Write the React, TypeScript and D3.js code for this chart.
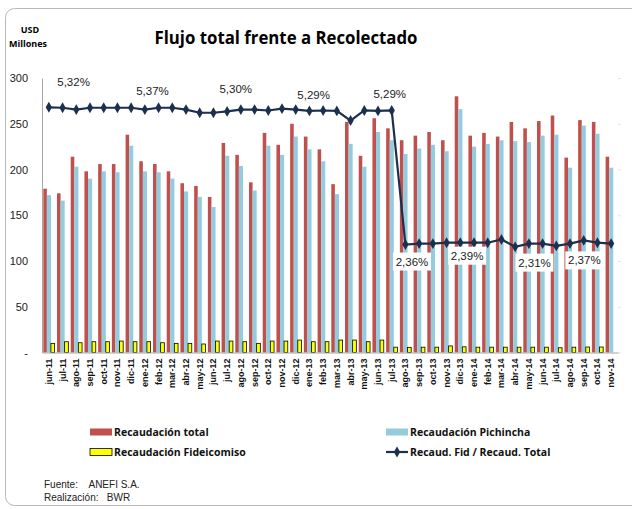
import * as d3 from "d3";
import { useEffect, useRef } from "react";

const months = [
  "jun-11", "jul-11", "ago-11", "sep-11", "oct-11", "nov-11", "dic-11",
  "ene-12", "feb-12", "mar-12", "abr-12", "may-12", "jun-12", "jul-12",
  "ago-12", "sep-12", "oct-12", "nov-12", "dic-12", "ene-13", "feb-13",
  "mar-13", "abr-13", "may-13", "jun-13", "jul-13", "ago-13", "sep-13",
  "oct-13", "nov-13", "dic-13", "ene-14", "feb-14", "mar-14", "abr-14",
  "may-14", "jun-14", "jul-14", "ago-14", "sep-14", "oct-14", "nov-14",
];

// USD millones
const recTotal = [
  179, 174, 214, 198, 206, 206, 238, 209, 206, 198, 185, 182, 170, 229,
  216, 186, 240, 227, 250, 236, 222, 184, 252, 215, 256, 245, 232, 237,
  241, 232, 280, 237, 240, 236, 252, 245, 253, 259, 213, 254, 252, 214,
];

const recPichincha = [
  172, 166, 203, 190, 198, 197, 226, 198, 197, 190, 176, 170, 159, 215,
  204, 177, 226, 216, 236, 222, 209, 173, 228, 203, 241, 232, 217, 223,
  227, 220, 266, 225, 228, 232, 231, 230, 237, 238, 202, 248, 239, 202,
];

const recFideicomiso = [
  10, 11.8, 10.7, 11.8, 11.8, 12.5, 11.8, 11.8, 10.7, 10, 10, 9.3, 12.5, 12.5,
  11.8, 10, 12.5, 12.5, 13.6, 11.8, 11.8, 13.6, 13.6, 11.8, 13.6, 5.8, 5.6, 5.8,
  5.8, 7.2, 6.2, 5.8, 5.8, 5.8, 5.8, 5.8, 5.8, 5.2, 5.8, 6, 6, 0,
];

// Recaud. Fid / Recaud. Total (%)
const ratio = [
  5.36, 5.35, 5.31, 5.35, 5.35, 5.35, 5.35, 5.31, 5.35, 5.35, 5.31, 5.24, 5.24, 5.27,
  5.31, 5.31, 5.29, 5.33, 5.31, 5.28, 5.29, 5.28, 5.07, 5.29, 5.28, 5.29, 2.36, 2.38,
  2.38, 2.4, 2.4, 2.4, 2.4, 2.47, 2.31, 2.38, 2.38, 2.33, 2.38, 2.45, 2.4, 2.38,
];

const yTicks = [0, 50, 100, 150, 200, 250, 300];
const pctTicks = [0, 1, 2, 3, 4, 5, 6];

const noteMonths = ["jul-11", "ene-12", "jul-12", "ene-13", "jul-13", "ago-13", "dic-13", "may-14", "sep-14"];
const noteTexts = ["5,32%", "5,37%", "5,30%", "5,29%", "5,29%", "2,36%", "2,39%", "2,31%", "2,37%"];

const COLORS = {
  total: "#C0504D",
  pich: "#93CDDD",
  fid: "#FFFF00",
  line: "#1B2F4E",
};

export default function App() {
  const svgRef = useRef<SVGSVGElement | null>(null);

  useEffect(() => {
    const svg = d3.select(svgRef.current);
    svg.selectAll("*").remove();

    const width = 632;
    const height = 509;
    const plot = { left: 42, right: 618, top: 78, bottom: 352.5 };
    const font = "'Liberation Sans', Arial, sans-serif";

    // frame
    svg
      .append("rect")
      .attr("x", 5.5)
      .attr("y", 8.5)
      .attr("width", 640)
      .attr("height", 497)
      .attr("rx", 9)
      .attr("fill", "white")
      .attr("stroke", "#b8b8b8");

    // title
    svg
      .append("text")
      .attr("x", 286)
      .attr("y", 44)
      .attr("text-anchor", "middle")
      .attr("font-family", "'Open Sans', sans-serif")
      .attr("font-weight", "bold")
      .attr("font-size", 17)
      .attr("textLength", 263)
      .attr("lengthAdjust", "spacingAndGlyphs")
      .text("Flujo total frente a Recolectado");

    svg
      .append("text")
      .attr("x", 30)
      .attr("y", 33)
      .attr("text-anchor", "middle")
      .attr("font-family", "'Open Sans', sans-serif")
      .attr("font-weight", "bold")
      .attr("font-size", 9)
      .text("USD");
    svg
      .append("text")
      .attr("x", 28)
      .attr("y", 47)
      .attr("text-anchor", "middle")
      .attr("font-family", "'Open Sans', sans-serif")
      .attr("font-weight", "bold")
      .attr("font-size", 9)
      .text("Millones");

    const x = d3
      .scaleBand<string>()
      .domain(months)
      .range([plot.left, plot.right])
      .paddingInner(0)
      .paddingOuter(0);
    const bw = x.bandwidth();

    const y = d3.scaleLinear().domain([0, 300]).range([plot.bottom, plot.top]);
    const yPct = d3.scaleLinear().domain([0, 6]).range([plot.bottom, plot.top]);

    // left axis
    const gy = svg
      .append("g")
      .attr("transform", `translate(${plot.left},0)`)
      .call(
        d3
          .axisLeft(y)
          .tickValues(yTicks)
          .tickSize(0)
          .tickPadding(14)
          .tickFormat((d) => (d === 0 ? "-" : String(d)))
      );
    gy.select(".domain").attr("stroke", "#a6a6a6");
    gy.selectAll("text")
      .attr("font-family", font)
      .attr("font-size", 11)
      .attr("fill", "#222");

    // hidden secondary axis (faint ticks only)
    const gr = svg
      .append("g")
      .attr("transform", `translate(${plot.right},0)`)
      .call(d3.axisRight(yPct).tickValues(pctTicks).tickSize(3).tickFormat(() => ""));
    gr.select(".domain").remove();
    gr.selectAll("line").attr("stroke", "#e4e4e4");

    // bars
    const idx = months.map((_, i) => i);

    svg
      .append("g")
      .selectAll("rect")
      .data(idx)
      .join("rect")
      .attr("x", (i) => x(months[i])! + bw * 0.095)
      .attr("width", bw * 0.26)
      .attr("y", (i) => y(recTotal[i]))
      .attr("height", (i) => y(0) - y(recTotal[i]))
      .attr("fill", COLORS.total);

    svg
      .append("g")
      .selectAll("rect")
      .data(idx)
      .join("rect")
      .attr("x", (i) => x(months[i])! + bw * 0.355)
      .attr("width", bw * 0.3)
      .attr("y", (i) => y(recPichincha[i]))
      .attr("height", (i) => y(0) - y(recPichincha[i]))
      .attr("fill", COLORS.pich);

    svg
      .append("g")
      .selectAll("rect")
      .data(idx.filter((i) => recFideicomiso[i] > 0))
      .join("rect")
      .attr("x", (i) => x(months[i])! + bw * 0.65)
      .attr("width", bw * 0.27)
      .attr("y", (i) => y(recFideicomiso[i]))
      .attr("height", (i) => y(0) - y(recFideicomiso[i]))
      .attr("fill", COLORS.fid)
      .attr("stroke", "#000")
      .attr("stroke-width", 0.8);

    // bottom axis
    const gx = svg
      .append("g")
      .attr("transform", `translate(0,${plot.bottom})`)
      .call(d3.axisBottom(x).tickSize(0).tickPadding(0));
    gx.select(".domain").attr("stroke", "#a6a6a6");
    gx.selectAll("text")
      .attr("font-family", font)
      .attr("font-weight", "bold")
      .attr("font-size", 9)
      .attr("fill", "#111")
      .attr("text-anchor", "end")
      .attr("transform", "translate(3,6) rotate(-90)")
      .attr("dy", 0)
      .attr("y", 0);

    // ratio line
    const line = d3
      .line<number>()
      .x((i) => x(months[i])! + bw / 2)
      .y((i) => yPct(ratio[i]));

    svg
      .append("path")
      .datum(idx)
      .attr("fill", "none")
      .attr("stroke", COLORS.line)
      .attr("stroke-width", 2.2)
      .attr("d", line);

    const diamond = d3.symbol().type(d3.symbolDiamond).size(34);
    svg
      .append("g")
      .selectAll("path")
      .data(idx)
      .join("path")
      .attr("transform", (i) => `translate(${x(months[i])! + bw / 2},${yPct(ratio[i])})`)
      .attr("d", diamond)
      .attr("fill", COLORS.line);

    // data labels
    const noteDx = [11, 7.6, 8.6, 4.2, -2, 6.6, 6.8, 5.6, 0.6];
    const noteDy = [-22, -15, -18, -12, -12, 21, 17, 23, 24];
    noteTexts.forEach((t, k) => {
      const i = months.indexOf(noteMonths[k]);
      const cx = x(months[i])! + bw / 2 + noteDx[k];
      const cy = yPct(ratio[i]) + noteDy[k];
      if (k >= 5) {
        svg
          .append("rect")
          .attr("x", cx - 19)
          .attr("y", cy - 13)
          .attr("width", 38)
          .attr("height", 18)
          .attr("fill", "white");
      }
      svg
        .append("text")
        .attr("x", cx)
        .attr("y", cy)
        .attr("text-anchor", "middle")
        .attr("font-family", font)
        .attr("font-size", 11.5)
        .attr("fill", "#222")
        .text(t);
    });

    // legend
    const leg = svg.append("g").attr("font-family", "'Open Sans', sans-serif").attr("font-weight", "bold").attr("font-size", 10.5);
    const items = [
      { label: "Recaudación total", lx: 90, ly: 432, kind: "rect", color: COLORS.total },
      { label: "Recaudación Pichincha", lx: 386, ly: 432, kind: "rect", color: COLORS.pich },
      { label: "Recaudación Fideicomiso", lx: 90, ly: 452, kind: "fid", color: COLORS.fid },
      { label: "Recaud. Fid / Recaud. Total", lx: 386, ly: 452, kind: "line", color: COLORS.line },
    ];
    items.forEach((it) => {
      if (it.kind === "line") {
        leg
          .append("line")
          .attr("x1", it.lx)
          .attr("x2", it.lx + 22)
          .attr("y1", it.ly)
          .attr("y2", it.ly)
          .attr("stroke", it.color)
          .attr("stroke-width", 2.2);
        leg
          .append("path")
          .attr("transform", `translate(${it.lx + 11},${it.ly})`)
          .attr("d", diamond)
          .attr("fill", it.color);
      } else {
        leg
          .append("rect")
          .attr("x", it.lx)
          .attr("y", it.ly - 3.5)
          .attr("width", 22)
          .attr("height", 7)
          .attr("fill", it.color)
          .attr("stroke", it.kind === "fid" ? "#000" : "none")
          .attr("stroke-width", 0.8);
      }
      leg
        .append("text")
        .attr("x", it.lx + 24)
        .attr("y", it.ly + 4)
        .attr("fill", "#111")
        .text(it.label);
    });

    // footer
    const foot = svg.append("g").attr("font-family", font).attr("font-size", 10).attr("fill", "#222");
    foot.append("text").attr("x", 44).attr("y", 488).attr("xml:space", "preserve").text("Fuente:    ANEFI S.A.");
    foot.append("text").attr("x", 44).attr("y", 501).attr("xml:space", "preserve").text("Realización:   BWR");

    svg.attr("width", width).attr("height", height);
  }, []);

  return (
    <svg
      ref={svgRef}
      width={632}
      height={509}
      style={{ position: "absolute", left: 0, top: 0, background: "white" }}
    ></svg>
  );
}
